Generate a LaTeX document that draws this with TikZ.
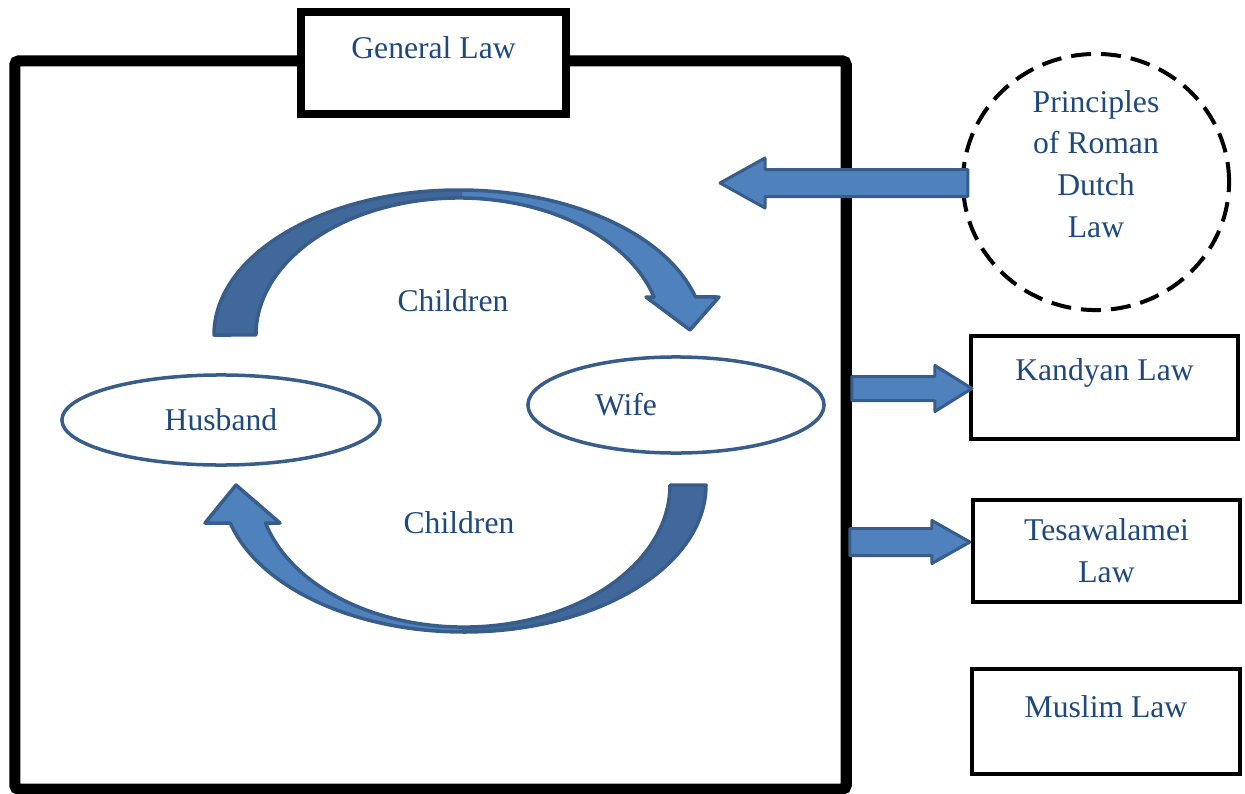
\documentclass[tikz,border=0pt]{standalone}
\usepackage{fontspec}
\setmainfont{Liberation Serif}
\usetikzlibrary{calc,shapes.geometric}
\definecolor{lawblue}{HTML}{1F497D}
\definecolor{arrowfill}{HTML}{4F81BD}
\definecolor{arrowdark}{HTML}{40689B}
\definecolor{arrowline}{HTML}{385D8A}
\tikzset{
  lawtext/.style={text=lawblue, font=\fontsize{9}{11.9}\selectfont, align=center, inner sep=0pt},
  lawbox/.style={draw, line width=0.04cm, fill=white, minimum width=2.67cm, minimum height=1.03cm, inner sep=0pt},
  person/.style={ellipse, draw=arrowline, line width=0.035cm, fill=white, inner sep=0pt, lawtext},
  fatarrow/.style={draw=arrowline, fill=arrowfill, line width=0.03cm, line join=round},
  bentarrow/.style={draw=arrowline, line width=0.035cm, line join=round},
}
% block arrow: tail, tip, half shaft, half head, head length
\newcommand{\blockarrow}[5]{%
  \draw[fatarrow] ($(#1)+(0,#3)$) -- ($(#2)+({-(#5)},#3)$) -- ($(#2)+({-(#5)},#4)$) -- (#2)
    -- ($(#2)+({-(#5)},{-(#4)})$) -- ($(#2)+({-(#5)},{-(#3)})$) -- ($(#1)+(0,{-(#3)})$) -- cycle;}
% the two bent arrows between husband and wife
\newcommand{\topbend}{(214,458) arc[start angle=180, end angle=15.2, x radius=245, y radius=145]
  -- (719,496) -- (690,463) -- (646,496) -- (654,496)
  arc[start angle=16.1, end angle=180, x radius=203, y radius=137] -- cycle}
\newcommand{\lowbend}{(706,308) arc[start angle=0, end angle=-165, x radius=242, y radius=147]
  -- (205,270) -- (236,308) -- (280,270) -- (265.5,270)
  arc[start angle=-164.5, end angle=0, x radius=206, y radius=142] -- cycle}
\begin{document}
\begin{tikzpicture}[x=0.01cm, y=0.01cm]
\useasboundingbox (0,0) rectangle (1245,793);
% general law frame
\node[draw, line width=0.11cm, rounded corners=0.04cm, minimum width=8.31cm, minimum height=7.28cm, inner sep=0pt] (frame) at (430.5,368) {};
\node[lawbox, line width=0.08cm, minimum width=2.65cm, minimum height=1.02cm] (general) at (433.5,730) {};
\node[lawtext] (generaltext) at ($(general)+(0,15)$) {General Law};

% roman dutch law
\node[ellipse, draw, dashed, dash pattern=on 0.2cm off 0.1cm, line width=0.04cm, minimum width=2.66cm, minimum height=2.56cm] (roman) at (1096,611) {};
\node[lawtext] (romantext) at (1096,629) {Principles\\of Roman\\Dutch\\Law};
\coordinate (romanfoot) at ($(roman.west)+(7,-1)$);
\coordinate (inflow) at (720,610);
\blockarrow{romanfoot}{inflow}{13.5}{25}{-45}

% personal laws
\node[lawbox] (kandyan) at (1104.5,405.5) {};
\node[lawtext] (kandyantext) at ($(kandyan)+(0,14.5)$) {Kandyan Law};
\node[lawbox, minimum height=1.02cm] (tesa) at (1106.5,242) {};
\node[lawtext] (tesatext) at (tesa) {Tesawalamei\\Law};
\node[lawbox, minimum width=2.68cm, minimum height=1.05cm] (muslim) at (1106,71.5) {};
\node[lawtext] (muslimtext) at ($(muslim)+(0,14.5)$) {Muslim Law};

\path (frame.east |- kandyan.west) ++(0,-1) coordinate (kandyanfoot);
\path (kandyan.west) ++(3,-1) coordinate (kandyantip);
\blockarrow{kandyanfoot}{kandyantip}{12}{23}{37}
\path (frame.east |- tesa.west) ++(-2,9) coordinate (tesafoot);
\path (tesa.west) ++(-1,9) coordinate (tesatip);
\blockarrow{tesafoot}{tesatip}{13.5}{21.5}{38}

% husband and wife
\fill[arrowfill] \topbend;
\begin{scope}
\clip (0,0) rectangle (462,793);
\fill[arrowdark] \topbend;
\end{scope}
\draw[bentarrow] \topbend;
\fill[arrowfill] \lowbend;
\begin{scope}
\clip (462,0) rectangle (1245,793);
\fill[arrowdark] \lowbend;
\end{scope}
\draw[bentarrow] \lowbend;

\node[person, minimum width=3.18cm, minimum height=0.90cm] (husband) at (221,373) {Husband};
\node[person, minimum width=2.96cm, minimum height=0.96cm] (wife) at (676,388) {};
\node[lawtext] (wifetext) at (626,388) {Wife};
\node[lawtext] (childrentop) at (453,492) {Children};
\node[lawtext] (childrenlow) at (459,270) {Children};
\end{tikzpicture}
\end{document}
